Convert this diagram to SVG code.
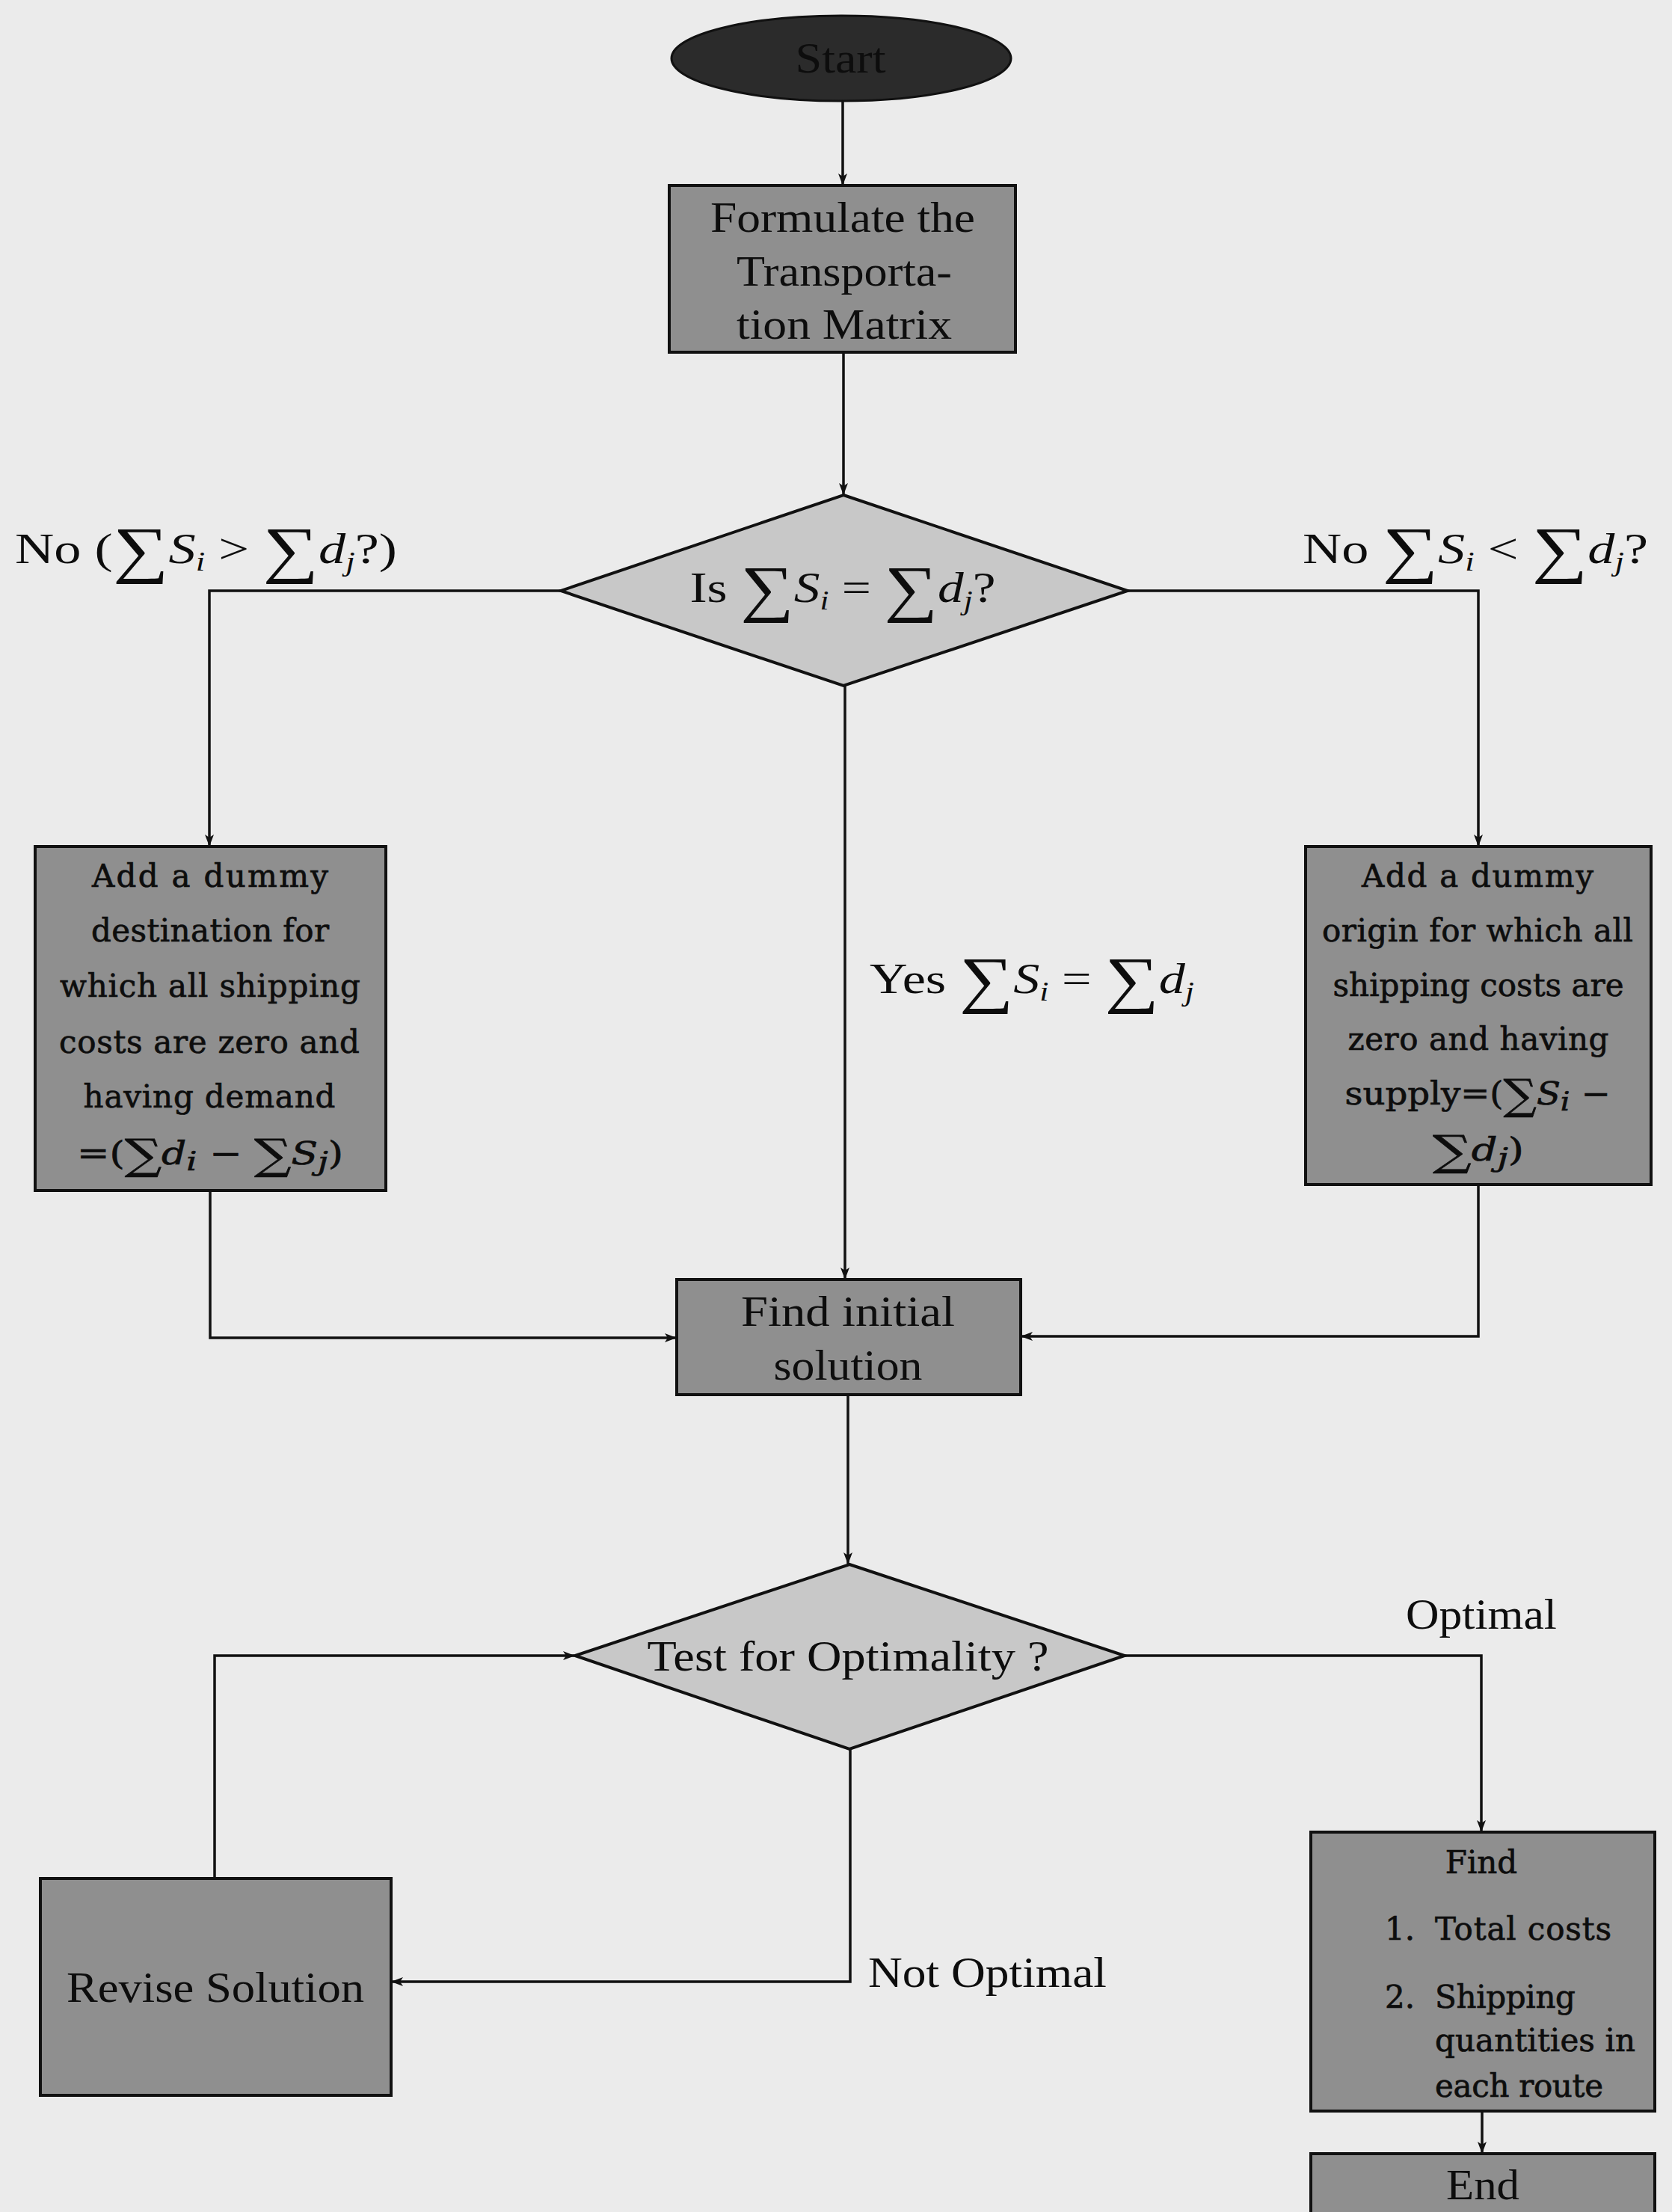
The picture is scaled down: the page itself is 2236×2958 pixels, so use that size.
<svg xmlns="http://www.w3.org/2000/svg" width="2236" height="2958" viewBox="0 0 2236 2958">
<style>
.bg{fill:#ebebeb}
.box{fill:#8f8f8f;stroke:#111;stroke-width:4}
.dia{fill:#c8c8c8;stroke:#111;stroke-width:4}
.term{fill:#2b2b2b;stroke:#111;stroke-width:3}
.cm{font-family:"Liberation Serif","Times New Roman",serif;font-size:58px;fill:#0d0d0d}
.wd{font-family:"DejaVu Serif",serif;font-size:42px;fill:#0d0d0d;stroke:#0d0d0d;stroke-width:0.7}
.it{font-style:italic}
.sub{font-size:36px;font-style:italic}
.sig{font-size:84px}
.conn{fill:none;stroke:#111;stroke-width:3.5}
</style>
<defs>
<marker id="arr" viewBox="0 0 16 12" refX="15" refY="6" markerWidth="16" markerHeight="12" markerUnits="userSpaceOnUse" orient="auto">
<path d="M0,0 L16,6 L0,12 L4,6 Z" fill="#111"/>
</marker>
</defs>
<rect class="bg" x="0" y="0" width="2236" height="2958"/>

<g id="connectors">
<path class="conn" d="M1127,135 L1127,247" marker-end="url(#arr)"/>
<path class="conn" d="M1128,472 L1128,661" marker-end="url(#arr)"/>
<path class="conn" d="M750,790 L280,790 L280,1131" marker-end="url(#arr)"/>
<path class="conn" d="M1508,790 L1977,790 L1977,1131" marker-end="url(#arr)"/>
<path class="conn" d="M1130,917 L1130,1710" marker-end="url(#arr)"/>
<path class="conn" d="M281,1592 L281,1789 L904,1789" marker-end="url(#arr)"/>
<path class="conn" d="M1977,1584 L1977,1787 L1366,1787" marker-end="url(#arr)"/>
<path class="conn" d="M1134,1866 L1134,2091" marker-end="url(#arr)"/>
<path class="conn" d="M1504,2214 L1981,2214 L1981,2449" marker-end="url(#arr)"/>
<path class="conn" d="M1137,2339 L1137,2650 L524,2650" marker-end="url(#arr)"/>
<path class="conn" d="M287,2512 L287,2214 L768,2214" marker-end="url(#arr)"/>
<path class="conn" d="M1982,2823 L1982,2879" marker-end="url(#arr)"/>
</g>

<g id="start">
<ellipse class="term" cx="1125" cy="78" rx="227" ry="57"/>
<text class="cm" x="1124" y="97" text-anchor="middle" textLength="121" lengthAdjust="spacingAndGlyphs">Start</text>
</g>

<g id="formulate">
<rect class="box" x="895" y="248" width="463" height="223"/>
<text class="cm" x="1127" y="310" text-anchor="middle" textLength="354" lengthAdjust="spacingAndGlyphs">Formulate the</text>
<text class="cm" x="1129" y="382" text-anchor="middle" textLength="288" lengthAdjust="spacingAndGlyphs">Transporta-</text>
<text class="cm" x="1129" y="453" text-anchor="middle" textLength="288" lengthAdjust="spacingAndGlyphs">tion Matrix</text>
</g>

<g id="balanced">
<polygon class="dia" points="1128,662 1508,790 1128,917 750,790"/>
<text class="cm" x="1127" y="805" text-anchor="middle" textLength="409" lengthAdjust="spacingAndGlyphs">Is <tspan class="sig" dy="10">∑</tspan><tspan class="it" dy="-10">S</tspan><tspan class="sub" dy="10">i</tspan><tspan dy="-10"> = </tspan><tspan class="sig" dy="10">∑</tspan><tspan class="it" dy="-10">d</tspan><tspan class="sub" dy="10">j</tspan><tspan dy="-10">?</tspan></text>
</g>

<g id="label-no-left">
<text class="cm" x="20" y="753" textLength="511" lengthAdjust="spacingAndGlyphs">No (<tspan class="sig" dy="10">∑</tspan><tspan class="it" dy="-10">S</tspan><tspan class="sub" dy="10">i</tspan><tspan dy="-10">  &gt; </tspan><tspan class="sig" dy="10">∑</tspan><tspan class="it" dy="-10">d</tspan><tspan class="sub" dy="10">j</tspan><tspan dy="-10">?)</tspan></text>
</g>

<g id="label-no-right">
<text class="cm" x="1742" y="753" textLength="462" lengthAdjust="spacingAndGlyphs">No <tspan class="sig" dy="10">∑</tspan><tspan class="it" dy="-10">S</tspan><tspan class="sub" dy="10">i</tspan><tspan dy="-10">  &lt; </tspan><tspan class="sig" dy="10">∑</tspan><tspan class="it" dy="-10">d</tspan><tspan class="sub" dy="10">j</tspan><tspan dy="-10">?</tspan></text>
</g>

<g id="label-yes">
<text class="cm" x="1163" y="1328" textLength="434" lengthAdjust="spacingAndGlyphs">Yes <tspan class="sig" dy="10">∑</tspan><tspan class="it" dy="-10">S</tspan><tspan class="sub" dy="10">i</tspan><tspan dy="-10">  = </tspan><tspan class="sig" dy="10">∑</tspan><tspan class="it" dy="-10">d</tspan><tspan class="sub" dy="10">j</tspan></text>
</g>

<g id="dummy-destination">
<rect class="box" x="47" y="1132" width="469" height="460"/>
<text class="wd" x="281" y="1186" text-anchor="middle" textLength="316" lengthAdjust="spacing">Add a dummy</text>
<text class="wd" x="281" y="1259" text-anchor="middle" textLength="318" lengthAdjust="spacing">destination for</text>
<text class="wd" x="281" y="1333" text-anchor="middle" textLength="402" lengthAdjust="spacing">which all shipping</text>
<text class="wd" x="280" y="1408" text-anchor="middle" textLength="402" lengthAdjust="spacing">costs are zero and</text>
<text class="wd" x="280" y="1481" text-anchor="middle" textLength="337" lengthAdjust="spacing">having demand</text>
<text class="wd" x="281" y="1557" text-anchor="middle" textLength="356" lengthAdjust="spacingAndGlyphs">=(<tspan font-size="56" dy="6">∑</tspan><tspan class="it" dy="-6">d</tspan><tspan class="sub" font-size="28" dy="8">i</tspan><tspan dy="-8"> − </tspan><tspan font-size="56" dy="6">∑</tspan><tspan class="it" dy="-6">S</tspan><tspan class="sub" font-size="28" dy="8">j</tspan><tspan dy="-8">)</tspan></text>
</g>

<g id="dummy-origin">
<rect class="box" x="1746" y="1132" width="462" height="452"/>
<text class="wd" x="1976" y="1186" text-anchor="middle" textLength="310" lengthAdjust="spacing">Add a dummy</text>
<text class="wd" x="1976" y="1259" text-anchor="middle" textLength="416" lengthAdjust="spacing">origin for which all</text>
<text class="wd" x="1977" y="1332" text-anchor="middle" textLength="389" lengthAdjust="spacing">shipping costs are</text>
<text class="wd" x="1977" y="1404" text-anchor="middle" textLength="349" lengthAdjust="spacing">zero and having</text>
<text class="wd" x="1976" y="1477" text-anchor="middle" textLength="355" lengthAdjust="spacingAndGlyphs">supply=(<tspan font-size="56" dy="6">∑</tspan><tspan class="it" dy="-6">S</tspan><tspan class="sub" font-size="28" dy="8">i</tspan><tspan dy="-8"> −</tspan></text>
<text class="wd" x="1977" y="1552" text-anchor="middle" textLength="122" lengthAdjust="spacingAndGlyphs"><tspan font-size="56" dy="6">∑</tspan><tspan class="it" dy="-6">d</tspan><tspan class="sub" font-size="28" dy="8">j</tspan><tspan dy="-8">)</tspan></text>
</g>

<g id="find-initial">
<rect class="box" x="905" y="1711" width="460" height="154"/>
<text class="cm" x="1134" y="1773" text-anchor="middle" textLength="286" lengthAdjust="spacingAndGlyphs">Find initial</text>
<text class="cm" x="1134" y="1845" text-anchor="middle" textLength="199" lengthAdjust="spacingAndGlyphs">solution</text>
</g>

<g id="test-optimality">
<polygon class="dia" points="1136,2092 1504,2214 1136,2339 769,2214"/>
<text class="cm" x="1134" y="2234" text-anchor="middle" textLength="537" lengthAdjust="spacingAndGlyphs">Test for Optimality ?</text>
</g>

<g id="label-optimal">
<text class="cm" x="1880" y="2178" textLength="202" lengthAdjust="spacingAndGlyphs">Optimal</text>
</g>

<g id="label-not-optimal">
<text class="cm" x="1161" y="2657" textLength="319" lengthAdjust="spacingAndGlyphs">Not Optimal</text>
</g>

<g id="revise">
<rect class="box" x="54" y="2512" width="469" height="290"/>
<text class="cm" x="288" y="2677" text-anchor="middle" textLength="398" lengthAdjust="spacingAndGlyphs">Revise Solution</text>
</g>

<g id="find-results">
<rect class="box" x="1753" y="2450" width="460" height="373"/>
<text class="wd" x="1981" y="2505" text-anchor="middle">Find</text>
<text class="wd" x="1852" y="2594">1.</text>
<text class="wd" x="1919" y="2594" textLength="236" lengthAdjust="spacing">Total costs</text>
<text class="wd" x="1852" y="2685">2.</text>
<text class="wd" x="1919" y="2685" textLength="188" lengthAdjust="spacing">Shipping</text>
<text class="wd" x="1919" y="2743" textLength="268" lengthAdjust="spacing">quantities in</text>
<text class="wd" x="1919" y="2804" textLength="225" lengthAdjust="spacing">each route</text>
</g>

<g id="end">
<rect class="box" x="1753" y="2880" width="460" height="100"/>
<text class="cm" x="1983" y="2941" text-anchor="middle" textLength="98" lengthAdjust="spacingAndGlyphs">End</text>
</g>
</svg>
